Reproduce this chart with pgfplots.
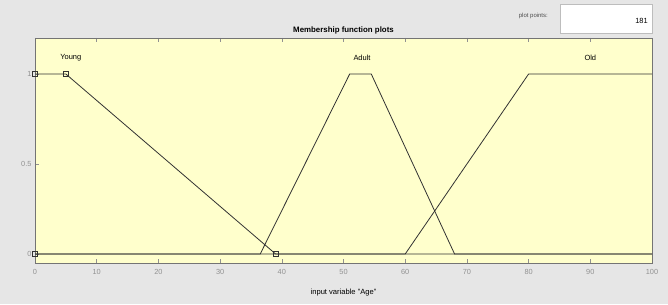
\documentclass[border=0pt]{standalone}
\usepackage{fontspec}
\setmainfont{Liberation Sans}
\usepackage{pgfplots}
\pgfplotsset{compat=1.18}
\definecolor{bg}{RGB}{230,230,230}
\definecolor{plotbg}{RGB}{255,255,204}
\definecolor{tickgray}{RGB}{145,145,145}
\definecolor{mfline}{RGB}{50,50,50}
\begin{document}
\begin{tikzpicture}[x=1bp,y=1bp]
\fill[bg] (0,0) rectangle (668,304);
\fill[white] (560,271) rectangle (652,300);
\draw[tickgray!60] (560,271) rectangle (652,300);
\node[anchor=base east,font=\fontsize{6}{7}\selectfont,text=black!70,inner sep=0pt] at (548,287) {plot points:};
\node[anchor=base east,font=\fontsize{7.5}{8}\selectfont,inner sep=0pt] at (648,281) {181};
\node[anchor=base,font=\fontsize{7.9}{9}\bfseries\selectfont,inner sep=0pt] at (343.5,272) {Membership function plots};
\begin{axis}[
  at={(35bp,41bp)}, anchor=south west,
  scale only axis, width=617bp, height=225bp,
  xmin=0, xmax=100, ymin=-0.05, ymax=1.2,
  axis background/.style={fill=plotbg},
  axis line style={tickgray!80!black},
  xtick={0,10,...,100}, ytick={0,0.5,1},
  yticklabels={0,0.5,1},
  xtick pos=both, ytick pos=left,
  tick align=inside,
  major tick length=4bp,
  tick style={tickgray, line width=0.5pt},
  ticklabel style={font=\fontsize{7.4}{8}\selectfont, text=tickgray},
  xticklabel style={yshift=-3bp},
  /pgf/number format/assume math mode=true,
  xlabel={input variable "Age"},
  xlabel style={font=\fontsize{7.6}{8}\selectfont, yshift=-7bp},
  clip=false,
]
\addplot[mfline, line width=0.8pt] coordinates {(0,1) (5,1) (39,0) (100,0)};
\addplot[mfline, line width=0.8pt] coordinates {(0,0) (36.5,0) (51,1) (54.5,1) (68,0) (100,0)};
\addplot[mfline, line width=0.8pt] coordinates {(0,0) (60,0) (80,1) (100,1)};
\addplot[only marks, mark=square, mark size=2.3bp, mark options={mfline, line width=0.5pt}] coordinates {(0,1) (5,1) (0,0) (39,0)};
\node[font=\fontsize{7.5}{8}\selectfont] at (axis cs:5.8,1.09) {Young};
\node[font=\fontsize{7.5}{8}\selectfont] at (axis cs:53,1.09) {Adult};
\node[font=\fontsize{7.5}{8}\selectfont] at (axis cs:90,1.09) {Old};
\end{axis}
\end{tikzpicture}
\end{document}
